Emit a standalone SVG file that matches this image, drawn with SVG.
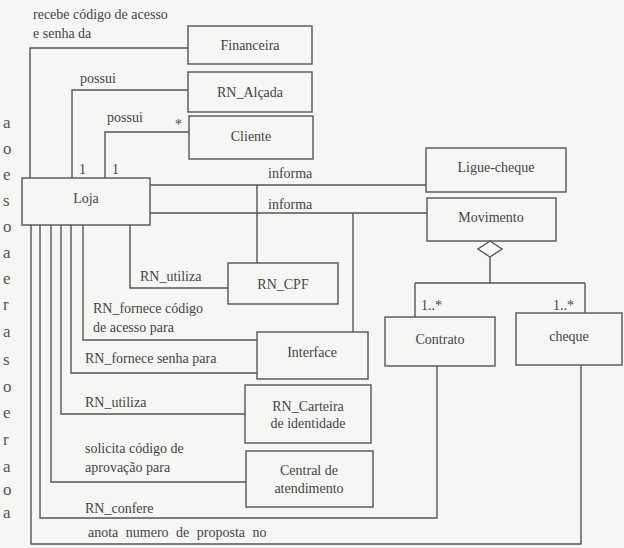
<svg xmlns="http://www.w3.org/2000/svg" width="624" height="548" viewBox="0 0 624 548" font-family="Liberation Serif, Times New Roman, serif">
<style>
.bg{fill:#f6f6f4}
.box{fill:none;stroke:#555;stroke-width:1.4}
.ln{fill:none;stroke:#555;stroke-width:1.4}
text{font-size:14px;fill:#444}
.c{text-anchor:middle}
.m{font-size:17px;fill:#555}
</style>
<rect class="bg" x="0" y="0" width="624" height="548"/>
<g id="margin-text">
<text class="m" x="3" y="128">a</text>
<text class="m" x="3" y="154">o</text>
<text class="m" x="3" y="180">e</text>
<text class="m" x="3" y="206">s</text>
<text class="m" x="3" y="232">o</text>
<text class="m" x="3" y="258">a</text>
<text class="m" x="3" y="284">e</text>
<text class="m" x="3" y="310">r</text>
<text class="m" x="3" y="337">a</text>
<text class="m" x="3" y="365">s</text>
<text class="m" x="3" y="392">o</text>
<text class="m" x="3" y="418">e</text>
<text class="m" x="3" y="445">r</text>
<text class="m" x="3" y="472">a</text>
<text class="m" x="3" y="495">o</text>
<text class="m" x="3" y="518">a</text>
</g>
<g id="connectors">
<path class="ln" d="M188,48 H30 V178"/>
<path class="ln" d="M188,90 H72 V178"/>
<path class="ln" d="M189,132 H105 V178"/>
<path class="ln" d="M150,185 H426"/>
<path class="ln" d="M150,213 H427"/>
<path class="ln" d="M257,185 V263"/>
<path class="ln" d="M353,213 V332"/>
<path class="ln" d="M130,225 V288 H228"/>
<path class="ln" d="M83,225 V340 H257"/>
<path class="ln" d="M71,225 V373 H257"/>
<path class="ln" d="M61,225 V414 H245"/>
<path class="ln" d="M51,225 V482 H246"/>
<path class="ln" d="M40,225 V518 H437 V366"/>
<path class="ln" d="M31,225 V544 H581 V365"/>
<path class="ln" d="M490,257 V283 M415,283 H585 M415,283 V317 M585,283 V313"/>
<polygon class="ln" points="490,241 502,249 490,257 478,249" style="fill:#fff"/>
<text x="33" y="19">recebe código de acesso</text>
<text x="33" y="38">e senha da</text>
<text x="80" y="83">possui</text>
<text x="107" y="122">possui</text>
<text x="175" y="129">*</text>
<text x="79" y="174">1</text>
<text x="112" y="174">1</text>
<text x="268" y="178">informa</text>
<text x="268" y="209">informa</text>
<text x="140" y="281">RN_utiliza</text>
<text x="93" y="313">RN_fornece código</text>
<text x="93" y="332">de acesso para</text>
<text x="85" y="363">RN_fornece senha para</text>
<text x="85" y="407">RN_utiliza</text>
<text x="85" y="453">solicita código de</text>
<text x="85" y="472">aprovação para</text>
<text x="85" y="513">RN_confere</text>
<text x="88" y="537" style="word-spacing:4px">anota numero de proposta no</text>
<text x="421" y="310">1..*</text>
<text x="553" y="310">1..*</text>
</g>
<g id="Financeira"><rect class="box" x="188" y="26" width="124" height="38"/><text class="c" x="250" y="50">Financeira</text></g>
<g id="RN_Alcada"><rect class="box" x="188" y="72" width="124" height="40"/><text class="c" x="250" y="97">RN_Alçada</text></g>
<g id="Cliente"><rect class="box" x="189" y="116" width="124" height="43"/><text class="c" x="251" y="141">Cliente</text></g>
<g id="Loja"><rect class="box" x="22" y="178" width="128" height="47"/><text class="c" x="86" y="203">Loja</text></g>
<g id="Ligue-cheque"><rect class="box" x="426" y="148" width="140" height="44"/><text class="c" x="496" y="172">Ligue-cheque</text></g>
<g id="Movimento"><rect class="box" x="427" y="198" width="129" height="43"/><text class="c" x="491" y="222">Movimento</text></g>
<g id="RN_CPF"><rect class="box" x="228" y="263" width="110" height="41"/><text class="c" x="283" y="289">RN_CPF</text></g>
<g id="Interface"><rect class="box" x="257" y="332" width="111" height="47"/><text class="c" x="312" y="357">Interface</text></g>
<g id="RN_Carteira"><rect class="box" x="245" y="385" width="126" height="58"/><text class="c" x="308" y="411">RN_Carteira</text><text class="c" x="308" y="428">de identidade</text></g>
<g id="Central"><rect class="box" x="246" y="451" width="127" height="56"/><text class="c" x="309" y="475">Central de</text><text class="c" x="309" y="493">atendimento</text></g>
<g id="Contrato"><rect class="box" x="385" y="317" width="110" height="49"/><text class="c" x="440" y="344">Contrato</text></g>
<g id="cheque"><rect class="box" x="516" y="313" width="106" height="52"/><text class="c" x="569" y="341">cheque</text></g>
</svg>
